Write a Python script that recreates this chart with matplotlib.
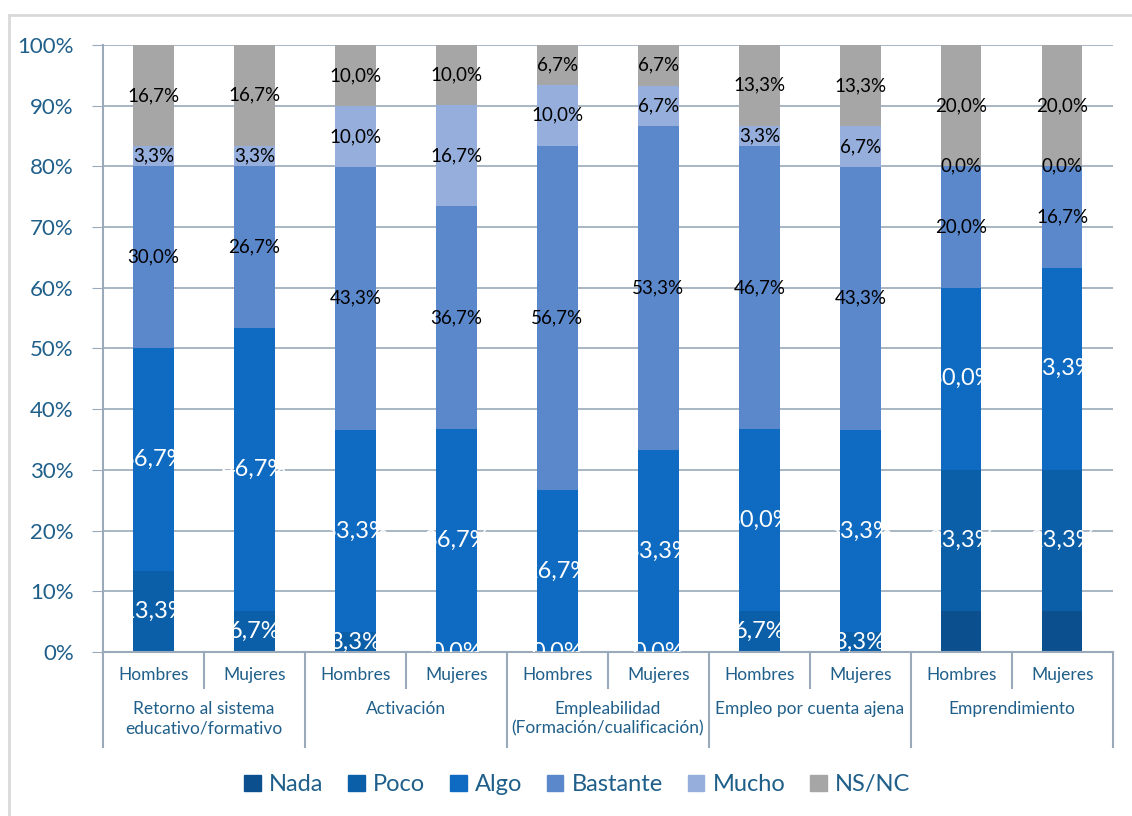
import matplotlib
matplotlib.use('Agg')
import matplotlib.pyplot as plt
from matplotlib.lines import Line2D
from matplotlib.patches import Patch

plt.rcParams['font.family'] = ['Lato', 'DejaVu Sans']

# data (percent)
sexes = ['Hombres', 'Mujeres'] * 5
groups = ['Retorno al sistema\neducativo/formativo', 'Activación',
          'Empleabilidad\n(Formación/cualificación)', 'Empleo por cuenta ajena',
          'Emprendimiento']
nada = [0.0, 0.0, 0.0, 0.0, 0.0, 0.0, 0.0, 0.0, 6.7, 6.7]
poco = [13.3, 6.7, 3.3, 0.0, 0.0, 0.0, 6.7, 3.3, 23.3, 23.3]
algo = [36.7, 46.7, 33.3, 36.7, 26.7, 33.3, 30.0, 33.3, 30.0, 33.3]
bastante = [30.0, 26.7, 43.3, 36.7, 56.7, 53.3, 46.7, 43.3, 20.0, 16.7]
mucho = [3.3, 3.3, 10.0, 16.7, 10.0, 6.7, 3.3, 6.7, 0.0, 0.0]
nsnc = [16.7, 16.7, 10.0, 10.0, 6.7, 6.7, 13.3, 13.3, 20.0, 20.0]

series = [('Nada', nada, '#0b4f8f', None),
          ('Poco', poco, '#0b5ea8', 'white'),
          ('Algo', algo, '#0f6bc1', 'white'),
          ('Bastante', bastante, '#5b88cb', 'black'),
          ('Mucho', mucho, '#95aedb', 'black'),
          ('NS/NC', nsnc, '#a6a6a6', 'black')]

text_col = '#1f5f8a'
axis_col = '#9aaabb'

fig = plt.figure(figsize=(11.32, 8.16), dpi=100)
ax = fig.add_axes([0.091, 0.201, 0.892, 0.744])

x = list(range(len(sexes)))
bottom = [0.0] * len(x)
for name, vals, color, lab_col in series:
    ax.bar(x, vals, width=0.4, bottom=bottom, color=color, zorder=2, label=name)
    if lab_col is not None:
        big = lab_col == 'white'
        for xi, b, v in zip(x, bottom, vals):
            ax.text(xi, b + v / 2, f'{v:.1f}%'.replace('.', ','), ha='center', va='center',
                    color=lab_col, fontsize=17 if big else 13.5, zorder=3, clip_on=True)
    bottom = [b + v for b, v in zip(bottom, vals)]

ax.set_xlim(-0.5, len(x) - 0.5)
ax.set_ylim(0, 100)
ax.set_yticks(range(0, 101, 10))
ax.set_yticklabels([f'{t}%' for t in range(0, 101, 10)])
ax.tick_params(axis='y', length=8, color=axis_col, labelcolor=text_col, labelsize=16, pad=13)
ax.set_xticks([])
ax.yaxis.grid(True, color=axis_col, linewidth=1.2, zorder=0)
ax.set_axisbelow(True)
for side in ['top', 'right']:
    ax.spines[side].set_visible(False)
for side in ['left', 'bottom']:
    ax.spines[side].set_color(axis_col)
    ax.spines[side].set_linewidth(1.5)

# two-level category axis
trans = ax.get_xaxis_transform()
for xi, s in zip(x, sexes):
    ax.text(xi, -0.038, s, transform=trans, ha='center', va='center',
            color=text_col, fontsize=12.5)
for gi, g in enumerate(groups):
    ax.text(2 * gi + 0.5, -0.08, g, transform=trans, ha='center', va='top',
            color=text_col, fontsize=12.5, linespacing=1.3)
for k in range(len(x) + 1):
    depth = -0.157 if k % 2 == 0 else -0.059
    ax.add_line(Line2D([k - 0.5, k - 0.5], [0, depth], transform=trans,
                       color=axis_col, linewidth=1.5, clip_on=False))

handles = [Patch(color=c) for _, _, c, _ in series]
leg = fig.legend(handles, [n for n, _, _, _ in series], loc='center',
                 bbox_to_anchor=(0.51, 0.038), ncol=6, frameon=False, fontsize=17,
                 handlelength=0.7, handleheight=0.7, handletextpad=0.35,
                 columnspacing=1.05)
for t in leg.get_texts():
    t.set_color(text_col)

# light chart-area frame
fy = 1 - 15 / 816
fx = 9 / 1132
fig.add_artist(Line2D([fx, fx], [0, fy], color='#d9d9d9', linewidth=2))
fig.add_artist(Line2D([fx, 1], [fy, fy], color='#d9d9d9', linewidth=2))

fig.savefig('out.png', dpi=100)
